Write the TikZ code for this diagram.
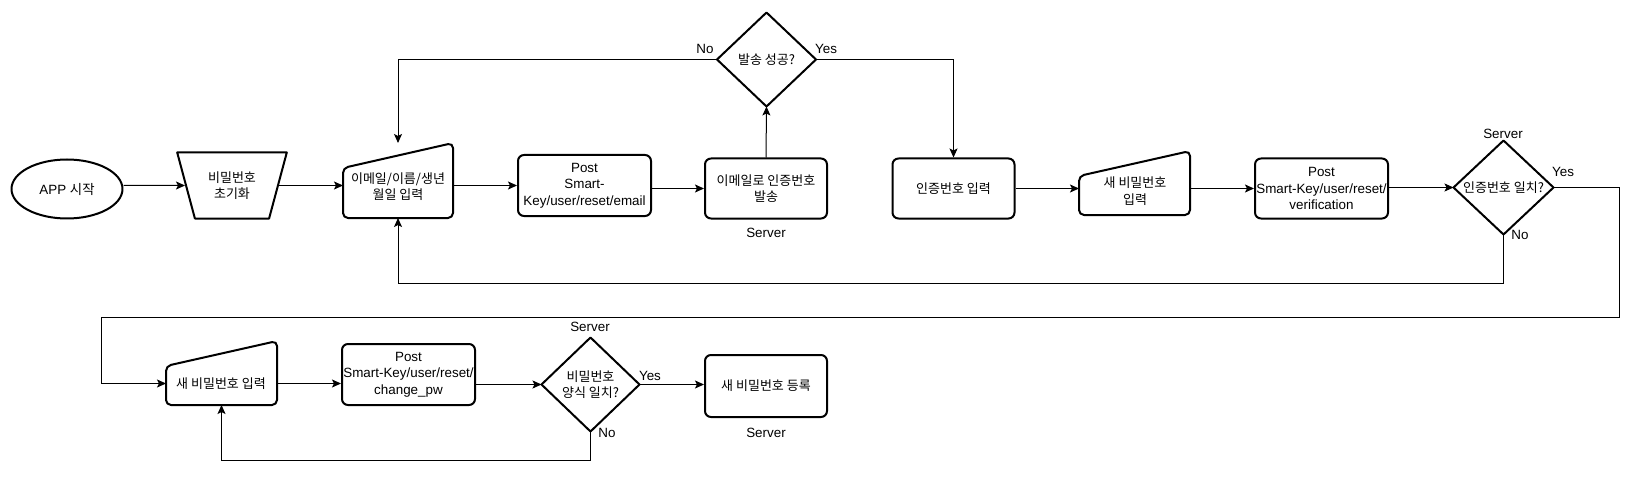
\documentclass[tikz,border=0pt]{standalone}
\usepackage{fontspec}
\setmainfont{Liberation Sans}
\newfontfamily\kr{Noto Sans CJK KR}
\usetikzlibrary{shapes.geometric,arrows.meta,calc}
\newcommand\mininput[2]{\draw[shp, rounded corners=5pt] (#1.south) -- (#1.south west) -- ($(#1.north west)+(0,#2)$) -- (#1.north east) -- (#1.south east) -- cycle;}
\tikzset{
  shp/.style={draw=black, line width=2pt, line join=round},
  txt/.style={font=\fontsize{13.4}{16.5}\selectfont, align=center, inner sep=0pt},
  krt/.style={font=\fontsize{13}{16.5}\selectfont\kr, align=center, inner sep=0pt},
  rbox/.style={shp, rounded corners=6pt},
  bb/.style={inner sep=0pt, outer sep=0pt},
  arr/.style={-{Stealth[length=9pt,width=8pt,inset=2pt]}, line width=1pt},
  ln/.style={line width=1pt}
}
\begin{document}
\begin{tikzpicture}[x=1pt,y=-1pt]
\useasboundingbox (0,0) rectangle (1640,481);
\fill[white] (0,0) rectangle (1640,481);
% row 1
\node[txt, shp, ellipse, minimum width=111, minimum height=59] (e) at (67,189) {APP {\kr 시작}};
\node[krt, shp, trapezium, trapezium left angle=68, trapezium right angle=68, shape border rotate=180, trapezium stretches=true, minimum width=110, minimum height=66] (t) at (232,185.5) {비밀번호\\초기화};
\node[bb, minimum width=110, minimum height=75] (m1) at (398,180.5) {};
\mininput{m1}{25}
\node[krt] (m1t) at (398,186.5) {이메일/이름/생년\\월일 입력};
\node[txt, rbox, minimum width=133, minimum height=61] (p1) at (584.5,185.5) {Post\\Smart-\\Key/user/reset/email};
\node[krt, rbox, minimum width=122, minimum height=60] (s1) at (766,188.5) {이메일로 인증번호\\발송};
\node[txt] (s1l) at (766,233) {Server};
\node[krt, bb, minimum width=99, minimum height=94] (d1) at (766.5,59.5) {발송 성공?};
\draw[shp] (d1.north) -- (d1.east) -- (d1.south) -- (d1.west) -- cycle;
\node[txt] (d1no) at (705,49) {No};
\node[txt] (d1yes) at (826,49) {Yes};
\node[krt, rbox, minimum width=122, minimum height=60] (n1) at (953.5,188.5) {인증번호 입력};
\node[bb, minimum width=111, minimum height=64] (m2) at (1134.5,183) {};
\mininput{m2}{25}
\node[krt] (m2t) at (1135,191) {새 비밀번호\\입력};
\node[txt, rbox, minimum width=133, minimum height=60] (p2) at (1321.5,188.5) {Post\\Smart-Key/user/reset/\\verification};
\node[krt, bb, minimum width=100, minimum height=94] (d2) at (1503.5,187.5) {인증번호 일치?};
\draw[shp] (d2.north) -- (d2.east) -- (d2.south) -- (d2.west) -- cycle;
\node[txt] (d2s) at (1503,134) {Server};
\node[txt] (d2yes) at (1563,172) {Yes};
\node[txt] (d2no) at (1520,235) {No};
% row 2
\node[bb, minimum width=111, minimum height=64] (m3) at (221.5,373) {};
\mininput{m3}{25}
\node[krt] (m3t) at (221,383.5) {새 비밀번호 입력};
\node[txt, rbox, minimum width=133, minimum height=61] (p3) at (408.5,374.5) {Post\\Smart-Key/user/reset/\\change\_pw};
\node[krt, bb, minimum width=98, minimum height=94] (d3) at (590.5,384.5) {비밀번호\\양식 일치?};
\draw[shp] (d3.north) -- (d3.east) -- (d3.south) -- (d3.west) -- cycle;
\node[txt] (d3s) at (590,327) {Server};
\node[txt] (d3yes) at (650,376) {Yes};
\node[txt] (d3no) at (607,433) {No};
\node[krt, rbox, minimum width=122, minimum height=62] (f) at (766,386) {새 비밀번호 등록};
\node[txt] (fl) at (766,433) {Server};
% connectors
\coordinate (y1) at (1619.5,317.5);
\coordinate (y2) at (101.5,317.5);
\draw[arr] (e.east |- t.center) -- (t);
\draw[arr] (t.east) -- (m1.west |- t.east);
\draw[arr] (m1.east |- p1.west) -- (p1.west);
\draw[arr] (p1.east |- s1.west) -- (s1.west);
\draw[arr] (s1.north) -- (d1.south);
\draw[arr] (d1.west) -| (m1.north);
\draw[arr] (d1.east) -| (n1.north);
\draw[arr] (n1.east) -- (m2.west |- n1.east);
\draw[arr] (m2.east |- p2.west) -- (p2.west);
\draw[arr] (p2.east |- d2.west) -- (d2.west);
\draw[arr] (d2.south) -- ++(0,49) -| (m1.south);
\draw[arr] (d2.east) -| (y1) -- (y2) |- (m3.west |- m3t);
\draw[arr] (m3.east |- m3t) -- (p3.west |- m3t);
\draw[arr] (p3.east |- d3.west) -- (d3.west);
\draw[arr] (d3.south) -- ++(0,29) -| (m3.south);
\draw[arr] (d3.east) -- (f.west |- d3.east);
\end{tikzpicture}
\end{document}
